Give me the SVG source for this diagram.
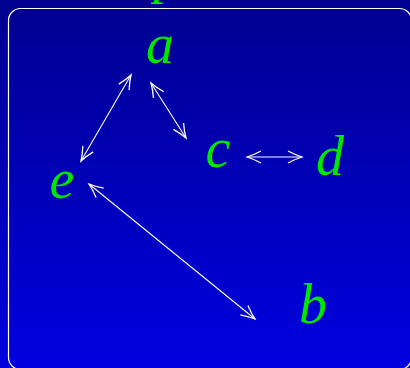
<svg xmlns="http://www.w3.org/2000/svg" width="410" height="368" viewBox="0 0 410 368">
  <defs>
    <linearGradient id="bg" x1="0" y1="0" x2="0" y2="1">
      <stop offset="0" stop-color="#000090"/>
      <stop offset="1" stop-color="#0000e0"/>
    </linearGradient>
    <marker id="ah" viewBox="-16 -8 18 16" refX="0" refY="0" markerWidth="18" markerHeight="16" markerUnits="userSpaceOnUse" orient="auto-start-reverse">
      <path d="M -14 -6 Q -6 -1.8 0 0 Q -6 1.8 -14 6" fill="none" stroke="#ffffff" stroke-width="1.3"/>
    </marker>
    <style>
      .lbl { font-family: "Liberation Serif", "DejaVu Serif", serif; font-style: italic; font-size: 56px; fill: #00e600; text-anchor: middle; }
      .edge { stroke: #ffffff; stroke-width: 1.1; fill: none; marker-start: url(#ah); marker-end: url(#ah); }
    </style>
  </defs>
  <rect x="0" y="0" width="410" height="368" fill="url(#bg)"/>
  <text x="150" y="-8" style="font-family: 'Liberation Serif', serif; font-size: 56px; fill: #00e600;">p</text>
  <rect x="8.5" y="8.5" width="403" height="361" rx="12" ry="12" fill="none" stroke="#ffffff" stroke-width="1.2"/>
  <g id="connectors">
    <line class="edge" x1="131" y1="75" x2="81" y2="161"/>
    <line class="edge" x1="151" y1="83" x2="186" y2="138"/>
    <line class="edge" x1="247" y1="157" x2="302" y2="157"/>
    <line class="edge" x1="89" y1="184" x2="255" y2="319"/>
  </g>
  <g id="node-a"><text class="lbl" x="160" y="63">a</text></g>
  <g id="node-c"><text class="lbl" x="218" y="167">c</text></g>
  <g id="node-e"><text class="lbl" x="62" y="198">e</text></g>
  <g id="node-d"><text class="lbl" x="330" y="175">d</text></g>
  <g id="node-b"><text class="lbl" x="313" y="323">b</text></g>
</svg>
